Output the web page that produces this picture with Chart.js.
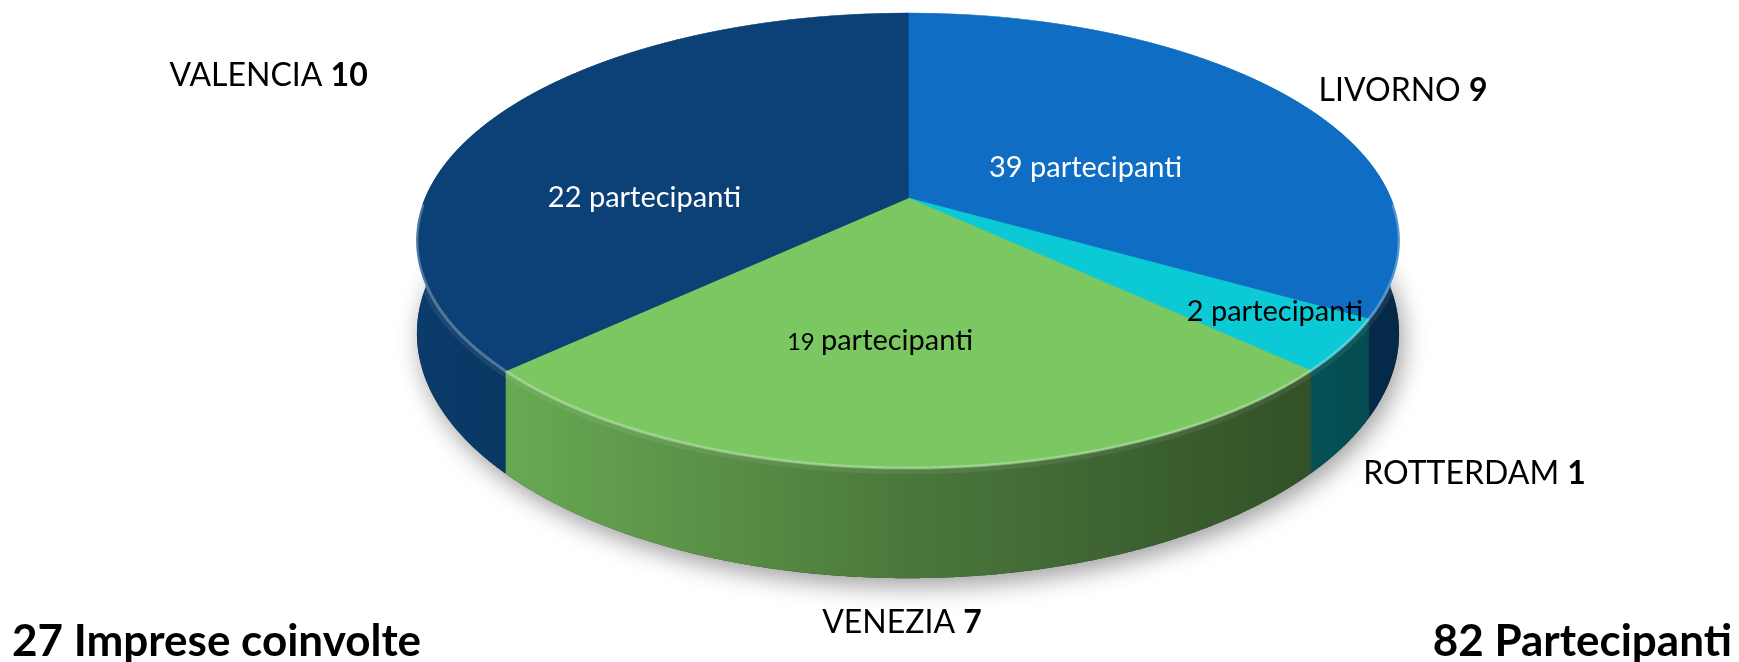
<!DOCTYPE html>
<html><head><meta charset="utf-8">
<script src="https://cdn.jsdelivr.net/npm/chart.js@4.4.0/dist/chart.umd.min.js"></script>
<style>html,body{margin:0;padding:0;background:#fff;}canvas{display:block;}</style>
</head><body>
<canvas id="c" width="1739" height="662"></canvas>
<script>
// ---- data ----
const categories = ['LIVORNO', 'ROTTERDAM', 'VENEZIA', 'VALENCIA'];
const companies = [9, 1, 7, 10];
const participants = [39, 2, 19, 22];
const participantsWord = 'partecipanti';
const totalCompaniesText = 'Imprese coinvolte';
const totalParticipantsText = 'Partecipanti';

// ---- styles / layout ----
const sliceColors = ['#0f6ec4', '#0bcad6', '#7bc862', '#0b4176'];
const insideTextColors = ['#ffffff', '#000000', '#000000', '#ffffff'];
// perspective view of the disc: centre (cx, cy), half-width A, half-depth B, perspective k, wall height H
const view = {cx: 908, cy: 198, A: 482.4, B: 219.6, k: 0.187, H: 89.5};
const outerLabelOffsets = [[113, 3], [131, 138], [-6, 165], [-227, -31]];
const innerLabelOffsets = [[-22, 31], [162, 54], [-28, 31], [-50, 51]];
const FONT = 'Lato, "Open Sans", sans-serif';

function shade(hex, f) {
  const n = parseInt(hex.slice(1), 16);
  const r = (n >> 16) & 255, g = (n >> 8) & 255, b = n & 255;
  return `rgb(${Math.round(r * f)},${Math.round(g * f)},${Math.round(b * f)})`;
}
function proj(X, Y, drop) {
  const w = 1 - view.k * Y;
  return [view.cx + view.A * X / w, view.cy + view.B * Y / w + (drop ? view.H / w : 0)];
}
function rim(a, drop) { return proj(Math.cos(a), Math.sin(a), drop); }
function frontRanges(s, e) {
  const out = [];
  for (let k = -2; k <= 2; k++) {
    const lo = Math.max(s, 2 * Math.PI * k), hi = Math.min(e, 2 * Math.PI * k + Math.PI);
    if (hi > lo) out.push([lo, hi]);
  }
  return out;
}
function tracePath(ctx, a, b, drop, first) {
  const n = Math.max(2, Math.ceil(Math.abs(b - a) / 0.005));
  for (let j = 0; j <= n; j++) {
    const p = rim(a + (b - a) * j / n, drop);
    if (first && j === 0) ctx.moveTo(p[0], p[1]); else ctx.lineTo(p[0], p[1]);
  }
}

const pie3d = {
  id: 'pie3d',
  beforeDatasetsDraw(chart) {
    const ctx = chart.ctx, meta = chart.getDatasetMeta(0);
    const {cx, cy, A, B, k} = view;
    // soft shadow under the disc
    ctx.save();
    ctx.beginPath();
    tracePath(ctx, 0, Math.PI * 2, true, true);
    ctx.closePath();
    ctx.shadowColor = 'rgba(0,0,0,0.38)';
    ctx.shadowBlur = 24;
    ctx.shadowOffsetY = 8;
    ctx.shadowOffsetX = 4;
    ctx.fillStyle = '#333';
    ctx.fill();
    ctx.restore();
    // side walls
    meta.data.forEach((arc, i) => {
      const col = sliceColors[i];
      frontRanges(arc.startAngle, arc.endAngle).forEach(([a, b]) => {
        const g = ctx.createLinearGradient(cx - A * 1.02, 0, cx + A * 1.02, 0);
        g.addColorStop(0, shade(col, 0.9));
        g.addColorStop(0.5, shade(col, 0.6));
        g.addColorStop(1, shade(col, 0.36));
        ctx.beginPath();
        tracePath(ctx, a, b, false, true);
        tracePath(ctx, b, a, true, false);
        ctx.closePath();
        ctx.fillStyle = g;
        ctx.fill();
      });
    });
    // subtle bevel light on top part of wall
    ctx.save();
    ctx.beginPath();
    tracePath(ctx, 0.01, Math.PI - 0.01, false, true);
    ctx.translate(0, 0);
    ctx.strokeStyle = 'rgba(255,255,255,0.07)';
    ctx.lineWidth = 12;
    ctx.stroke();
    ctx.restore();

    // top face: the library's arcs, drawn row by row through a perspective mapping
    const a0 = meta.data[0];
    const R = a0.outerRadius, px = a0.x, py = a0.y;
    const top = Math.floor(cy - B / (1 + k)) - 2, bottom = Math.ceil(cy + B / (1 - k)) + 2;
    for (let yr = top; yr < bottom; yr++) {
      const yc = yr + 0.5, d = yc - cy;
      const Y = d / (B + k * d);
      if (Y < -1.02 || Y > 1.02) continue;
      const w = 1 - k * Y;
      const sx = A / w, sy = B / (w * w);
      ctx.save();
      ctx.beginPath();
      ctx.rect(0, yr, chart.width, 1);
      ctx.clip();
      ctx.translate(cx, yc);
      ctx.scale(sx / R, sy / R);
      ctx.translate(-px, -(py + Y * R));
      meta.data.forEach(arc => arc.draw(ctx));
      ctx.restore();
    }
    return false;
  },
  afterDraw(chart) {
    const ctx = chart.ctx, meta = chart.getDatasetMeta(0);
    // rim highlight
    ctx.save();
    ctx.beginPath();
    tracePath(ctx, 0.03, Math.PI - 0.03, false, true);
    ctx.strokeStyle = 'rgba(255,255,255,0.28)';
    ctx.lineWidth = 3;
    ctx.stroke();
    ctx.restore();

    ctx.save();
    ctx.textBaseline = 'alphabetic';
    meta.data.forEach((arc, i) => {
      const mid = (arc.startAngle + arc.endAngle) / 2;
      const c = Math.cos(mid), s = Math.sin(mid);
      // outer category label: NAME (regular) + value (bold)
      const rp = rim(mid, false);
      const ox = rp[0] + outerLabelOffsets[i][0], oy = rp[1] + outerLabelOffsets[i][1];
      const fReg = `32px ${FONT}`, fBold = `bold 32px ${FONT}`;
      ctx.font = fReg; const w1 = ctx.measureText(categories[i] + ' ').width;
      ctx.font = fBold; const w2 = ctx.measureText(String(companies[i])).width;
      const x0 = ox - (w1 + w2) / 2;
      ctx.fillStyle = '#000';
      ctx.textAlign = 'left';
      ctx.font = fReg; ctx.fillText(categories[i] + ' ', x0, oy);
      ctx.font = fBold; ctx.fillText(String(companies[i]), x0 + w1, oy);
      // inner participants label
      const ip = proj(0.5 * c, 0.5 * s, false);
      const ix = ip[0] + innerLabelOffsets[i][0], iy = ip[1] + innerLabelOffsets[i][1];
      const numFont = (participants[i] === 19) ? `24px ${FONT}` : `29px ${FONT}`;
      const txtFont = `29px ${FONT}`;
      ctx.font = numFont; const n1 = ctx.measureText(participants[i] + ' ').width;
      ctx.font = txtFont; const n2 = ctx.measureText(participantsWord).width;
      const sx = ix - (n1 + n2) / 2;
      ctx.fillStyle = insideTextColors[i];
      ctx.font = numFont; ctx.fillText(participants[i] + ' ', sx, iy);
      ctx.font = txtFont; ctx.fillText(participantsWord, sx + n1, iy);
    });
    // totals
    const totC = companies.reduce((a, b) => a + b, 0);
    const totP = participants.reduce((a, b) => a + b, 0);
    ctx.fillStyle = '#000';
    ctx.font = `bold 44px ${FONT}`;
    ctx.textAlign = 'left';
    ctx.fillText(totC + ' ' + totalCompaniesText, 12, 656);
    ctx.textAlign = 'right';
    ctx.fillText(totP + ' ' + totalParticipantsText, 1732, 656);
    ctx.restore();
  }
};

new Chart(document.getElementById('c'), {
  type: 'pie',
  data: {
    labels: categories,
    datasets: [{
      data: companies,
      backgroundColor: sliceColors,
      borderColor: sliceColors,
      borderWidth: 1,
      clip: false
    }]
  },
  options: {
    responsive: false,
    animation: false,
    events: [],
    rotation: 0,
    plugins: {legend: {display: false}, tooltip: {enabled: false}, title: {display: false}}
  },
  plugins: [pie3d]
});
</script>
</body></html>
